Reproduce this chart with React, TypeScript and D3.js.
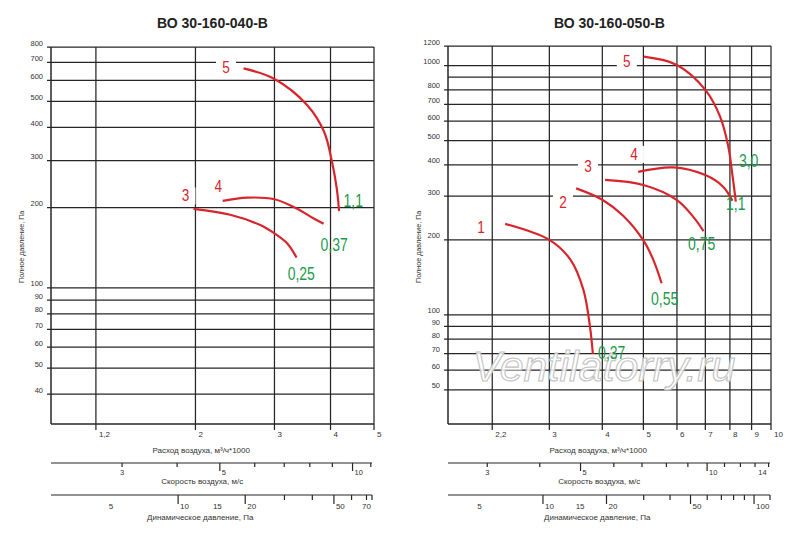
import React from 'react';
import * as d3 from 'd3';

type Pt = [number, number];
interface Ann { text: string; q: number; p: number }

// ---------- Left chart: ВО 30-160-040-В ----------
const titleA = 'ВО 30-160-040-В';
const flowTicksA = [1.2, 2, 3, 4, 5];
const pressGridA = [40, 50, 60, 70, 80, 90, 100, 200, 300, 400, 500, 600, 700, 800];
const pressLabelsA = [40, 50, 60, 70, 80, 90, 100, 200, 300, 400, 500, 600, 700, 800];
const curveA3: Pt[] = [[1.98, 198], [2.39, 188], [2.79, 172], [3.0, 160], [3.2, 147], [3.36, 130]];
const curveA4: Pt[] = [[2.3, 212], [2.61, 218], [3.0, 215], [3.37, 198], [3.67, 182], [3.86, 174]];
const curveA5: Pt[] = [[2.56, 665], [3.0, 607], [3.55, 484], [3.87, 385], [4.03, 297], [4.13, 236], [4.18, 194]];
const curveNamesA: Ann[] = [
  { text: '3', q: 1.9, p: 211 },
  { text: '4', q: 2.25, p: 228.6 },
  { text: '5', q: 2.34, p: 639 },
];
const powerNamesA: Ann[] = [
  { text: '0,25', q: 3.21, p: 106.8 },
  { text: '0,37', q: 3.8, p: 138 },
  { text: '1,1', q: 4.275, p: 201 },
];
const velTicksA = [3, 4, 5, 6, 7, 8, 9, 10, 11];
const velLabelsA = [3, 5, 10];
const velMajorA = [5, 10];
const dynTicksA = [10, 20, 30, 40, 50, 60, 70];
const dynLabelsA = [5, 10, 15, 20, 50, 70];
const dynMajorA = [10, 20, 50];

// ---------- Right chart: ВО 30-160-050-В ----------
const titleB = 'ВО 30-160-050-В';
const flowTicksB = [2.2, 3, 4, 5, 6, 7, 8, 9, 10];
const pressGridB = [50, 60, 70, 80, 90, 100, 200, 300, 400, 500, 600, 700, 800, 900, 1000, 1200];
const pressLabelsB = [50, 60, 70, 80, 90, 100, 200, 300, 400, 500, 600, 700, 800, 1000, 1200];
const curveB1: Pt[] = [[2.36, 232], [3.0, 200], [3.37, 166], [3.61, 126], [3.74, 90], [3.8, 69.8]];
const curveB2: Pt[] = [[3.47, 322], [4.0, 290], [4.48, 250], [5.0, 199], [5.28, 166], [5.52, 134]];
const curveB3: Pt[] = [[4.06, 348], [5.0, 332], [6.0, 289], [6.55, 248], [6.93, 217]];
const curveB4: Pt[] = [[4.86, 375], [5.88, 391], [7.0, 364], [7.71, 327], [8.11, 287]];
const curveB5: Pt[] = [[5.01, 1087], [6.0, 1007], [7.0, 800], [7.58, 626], [7.93, 474], [8.08, 382], [8.26, 285]];
const curveNamesB: Ann[] = [
  { text: '1', q: 2.07, p: 213.5 },
  { text: '2', q: 3.23, p: 268.6 },
  { text: '3', q: 3.7, p: 375 },
  { text: '4', q: 4.75, p: 419 },
  { text: '5', q: 4.57, p: 988 },
];
const powerNamesB: Ann[] = [
  { text: '0,37', q: 3.91, p: 66.6 },
  { text: '0,55', q: 5.21, p: 109.7 },
  { text: '0,75', q: 6.37, p: 182.4 },
  { text: '1,1', q: 7.83, p: 263.8 },
  { text: '3,0', q: 8.4, p: 392 },
];
const velTicksB = [3, 4, 5, 6, 7, 8, 9, 10, 11, 12, 13, 14];
const velLabelsB = [3, 5, 10, 14];
const velMajorB = [5, 10];
const dynTicksB = [10, 20, 30, 40, 50, 60, 70, 80, 90, 100];
const dynLabelsB = [5, 10, 15, 20, 50, 100];
const dynMajorB = [10, 20, 50, 100];

const FONT = "'Liberation Sans', Arial, sans-serif";
const RED = '#d8242b';
const GREEN = '#1d9a4c';
const GRID = '#262626';
const TXT = '#333';
const NARROW_X = 0.8;

const fmt = (v: number) => String(v).replace('.', ',');

interface PanelProps {
  title: string;
  x0: number; x1: number; y0: number; y1: number; axEnd: number;
  flowDomain: [number, number]; pressDomain: [number, number];
  velDomain: [number, number]; dynDomain: [number, number];
  flowTicks: number[]; pressGrid: number[]; pressLabels: number[];
  curves: Pt[][]; curveNames: Ann[]; powerNames: Ann[];
  velTicks: number[]; velLabels: number[]; velMajor: number[];
  dynTicks: number[]; dynLabels: number[]; dynMajor: number[];
  yTitleX: number; watermark?: boolean;
}

function Panel(p: PanelProps) {
  const x = d3.scaleLog().domain(p.flowDomain).range([p.x0, p.x1]);
  const y = d3.scaleLog().domain(p.pressDomain).range([p.y1, p.y0]);
  const vel = d3.scaleLog().domain(p.velDomain).range([p.x0, p.axEnd]);
  const dyn = d3.scaleLog().domain(p.dynDomain).range([p.x0, p.axEnd]);
  const line = d3.line<Pt>().x(d => x(d[0])).y(d => y(d[1])).curve(d3.curveCatmullRom.alpha(0.5));
  const cx = p.x0 + 0.465 * (p.x1 - p.x0);
  const velY = 463;
  const dynY = 495;
  const lastVel = p.velTicks[p.velTicks.length - 1];
  return (
    <g>
      <text x={(p.x0 + p.x1) / 2} y={28} textAnchor="middle" fontFamily={FONT} fontWeight="bold" fontSize={14} fill="#222">{p.title}</text>
      {/* horizontal grid */}
      {p.pressGrid.map(v => (
        <line key={'h' + v} x1={p.pressLabels.includes(v) ? p.x0 - 4 : p.x0} x2={p.x1} y1={y(v)} y2={y(v)} stroke={GRID} strokeWidth={1.25} />
      ))}
      <line x1={p.x0} x2={p.x1} y1={p.y1} y2={p.y1} stroke={GRID} strokeWidth={1.5} />
      <line x1={p.x0} x2={p.x0} y1={p.y0} y2={p.y1} stroke={GRID} strokeWidth={1.5} />
      {/* vertical grid */}
      {p.flowTicks.map(v => (
        <line key={'v' + v} x1={x(v)} x2={x(v)} y1={p.y0} y2={p.y1 + 6} stroke={GRID} strokeWidth={1.25} />
      ))}
      {p.pressLabels.map(v => (
        <text key={'pl' + v} x={p.x0 - 8} y={y(v) - 1.5} textAnchor="end" fontFamily={FONT} fontSize={7.5} fill={TXT}>{v}</text>
      ))}
      {p.flowTicks.map(v => (
        <text key={'fl' + v} x={x(v) + 3} y={p.y1 + 13} fontFamily={FONT} fontSize={8} fill={TXT}>{fmt(v)}</text>
      ))}
      <text x={cx} y={453} textAnchor="middle" fontFamily={FONT} fontSize={8} fill={TXT}>Расход воздуха, м³/ч*1000</text>
      <text transform={`translate(${p.yTitleX},283) rotate(-90)`} fontFamily={FONT} fontSize={7.2} fill={TXT}>Полное давление, Па</text>
      {/* velocity axis */}
      <line x1={p.x0} x2={p.axEnd} y1={velY} y2={velY} stroke={GRID} strokeWidth={1.2} />
      {p.velTicks.map(v => (
        <line key={'vt' + v} x1={vel(v)} x2={vel(v)} y1={velY} y2={velY + (p.velMajor.includes(v) ? 8 : 4)} stroke={GRID} strokeWidth={1.2} />
      ))}
      {p.velLabels.map(v => {
        const anchor = v === lastVel ? 'end' : p.velMajor.includes(v) ? 'start' : 'middle';
        const dx = anchor === 'start' ? 2 : anchor === 'end' ? -2 : 0;
        return <text key={'vl' + v} x={vel(v) + dx} y={velY + 12} textAnchor={anchor} fontFamily={FONT} fontSize={7.5} fill={TXT}>{v}</text>;
      })}
      <text x={cx + 1} y={484} textAnchor="middle" fontFamily={FONT} fontSize={8} fill={TXT}>Скорость воздуха, м/с</text>
      {/* dynamic pressure axis */}
      <line x1={p.x0} x2={p.axEnd} y1={dynY} y2={dynY} stroke={GRID} strokeWidth={1.2} />
      {[...p.dynTicks, p.dynDomain[1]].map(v => (
        <line key={'dt' + v} x1={dyn(v)} x2={dyn(v)} y1={dynY} y2={dynY + (p.dynMajor.includes(v) ? 9 : 5)} stroke={GRID} strokeWidth={1.2} />
      ))}
      {p.dynLabels.map(v => {
        const anchor = p.dynMajor.includes(v) ? 'start' : 'middle';
        return <text key={'dl' + v} x={dyn(v) + (anchor === 'start' ? 2 : 0)} y={dynY + 14} textAnchor={anchor} fontFamily={FONT} fontSize={8} fill={TXT}>{v}</text>;
      })}
      <text x={cx - 1} y={520} textAnchor="middle" fontFamily={FONT} fontSize={8} fill={TXT}>Динамическое давление, Па</text>
      {p.watermark && (
        <text x={604} y={381} textAnchor="middle" fontFamily={FONT} fontStyle="italic" fontSize={43} fill="#fff" fillOpacity={0.85} stroke="#c2c2c2" strokeWidth={1.1}>Ventilatorry.ru</text>
      )}
      {/* curves */}
      {p.curves.map((c, i) => (
        <path key={'c' + i} d={line(c) || ''} fill="none" stroke={RED} strokeWidth={2.2} strokeLinecap="butt" />
      ))}
      {p.curveNames.map(a => (
        <g key={'cn' + a.text}>
          <rect x={x(a.q) - 10} y={y(a.p) - 14} width={20} height={17} fill="#fff" />
          <text transform={`translate(${x(a.q)},${y(a.p)}) scale(${NARROW_X},1)`} textAnchor="middle" fontFamily={FONT} fontSize={17} fill={RED}>{a.text}</text>
        </g>
      ))}
      {p.powerNames.map(a => (
        <text key={'pn' + a.text} transform={`translate(${x(a.q)},${y(a.p)}) scale(${NARROW_X},1)`} fontFamily={FONT} fontSize={17.5} fill={GREEN}>{a.text}</text>
      ))}
    </g>
  );
}

export default function App() {
  return (
    <svg width={800} height={543} viewBox="0 0 800 543" style={{ position: 'absolute', left: 0, top: 0, background: '#fff' }}>
      <rect width={800} height={543} fill="#fff" />
      <Panel
        title={titleA}
        x0={51} x1={374} y0={47} y1={424} axEnd={372}
        flowDomain={[0.953, 5]} pressDomain={[30.9, 800]}
        velDomain={[2.07, 11.07]} dynDomain={[2.69, 74.1]}
        flowTicks={flowTicksA} pressGrid={pressGridA} pressLabels={pressLabelsA}
        curves={[curveA3, curveA4, curveA5]} curveNames={curveNamesA} powerNames={powerNamesA}
        velTicks={velTicksA} velLabels={velLabelsA} velMajor={velMajorA}
        dynTicks={dynTicksA} dynLabels={dynLabelsA} dynMajor={dynMajorA}
        yTitleX={24}
      />
      <Panel
        title={titleB}
        x0={448} x1={771} y0={46} y1={424} axEnd={770}
        flowDomain={[1.73, 10]} pressDomain={[36.5, 1200]}
        velDomain={[2.42, 14.11]} dynDomain={[3.55, 119]}
        flowTicks={flowTicksB} pressGrid={pressGridB} pressLabels={pressLabelsB}
        curves={[curveB1, curveB2, curveB3, curveB4, curveB5]} curveNames={curveNamesB} powerNames={powerNamesB}
        velTicks={velTicksB} velLabels={velLabelsB} velMajor={velMajorB}
        dynTicks={dynTicksB} dynLabels={dynLabelsB} dynMajor={dynMajorB}
        yTitleX={421}
        watermark
      />
    </svg>
  );
}
